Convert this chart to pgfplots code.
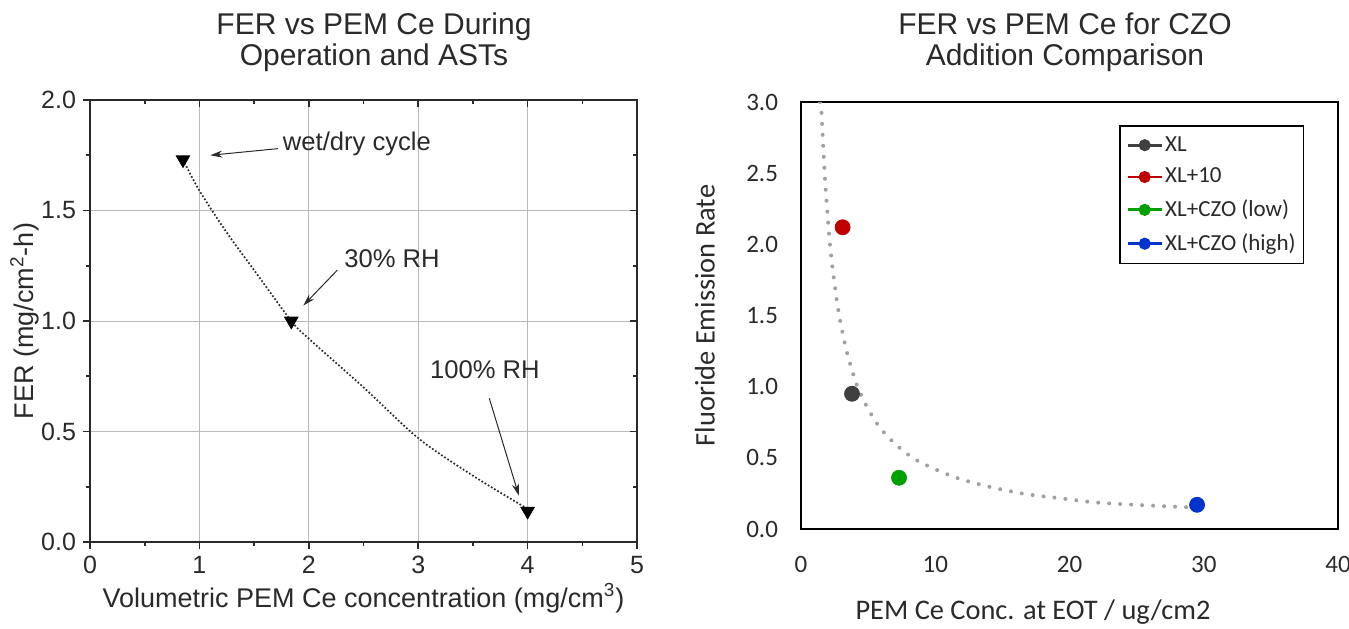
\documentclass[border=0pt]{standalone}
\usepackage{fontspec}
\setmainfont{Liberation Sans}
\newfontfamily\carlito{Carlito}
\usepackage{pgfplots}
\pgfplotsset{compat=1.18}
\usetikzlibrary{arrows.meta}

\definecolor{ink}{HTML}{2A2A2A}
\definecolor{xlgray}{HTML}{404040}
\definecolor{xlred}{HTML}{C00000}
\definecolor{xlgreen}{HTML}{00A000}
\definecolor{xlblue}{HTML}{0033CC}
\definecolor{trend}{HTML}{A0A0A0}

\pgfplotsset{
  /pgf/number format/assume math mode=true,
  leftbox/.style={
    at={(45pt,43pt)}, anchor=south west,
    scale only axis, width=273.5pt, height=221pt,
    xmin=0, xmax=5, ymin=0, ymax=2,
    xtick={0,1,2,3,4,5}, ytick={0,0.5,1,1.5,2},
    minor x tick num=1, minor y tick num=1,
    major tick length=3.5pt, minor tick length=2pt,
    axis line style={ink, line width=0.8pt},
    tick style={ink, line width=0.8pt},
  },
}
\newcommand{\annfont}{\fontsize{12.8}{15}\selectfont}

\begin{document}
\begin{tikzpicture}
\useasboundingbox (0,0) rectangle (674.5pt,314pt);

% ---- left: FER vs volumetric Ce
\begin{axis}[
  leftbox,
  xtick pos=bottom, ytick pos=left, tick align=outside,
  grid=major, major grid style={gray!55, line width=0.4pt},
  ticklabel style={font=\fontsize{12.5}{15}\selectfont, text=ink},
  yticklabel style={/pgf/number format/fixed, /pgf/number format/fixed zerofill, /pgf/number format/precision=1},
  xlabel={Volumetric PEM Ce concentration (mg/cm\textsuperscript{3})},
  ylabel={FER (mg/cm\textsuperscript{2}-h)},
  label style={font=\fontsize{13.5}{16}\selectfont, text=ink},
  xlabel style={at={(axis description cs:0.5,-0.127)}, anchor=center},
  ylabel style={at={(axis description cs:-0.119,0.5)}, anchor=center},
]
\addplot[ink, densely dotted, line width=0.85pt, smooth, forget plot] coordinates {
  (0.85,1.73) (1.0,1.59) (1.25,1.40) (1.5,1.23) (1.84,1.00) (2.0,0.92)
  (2.5,0.70) (3.0,0.47) (3.5,0.30) (4.0,0.15)
};
\addplot[only marks, mark=triangle*, mark size=3.9pt,
  mark options={rotate=180, fill=black, draw=black}] coordinates {
  (0.85,1.73) (1.84,1.00) (4.00,0.14)
};
\node[font=\annfont, text=ink] at (axis cs:2.44,1.80) {wet/dry cycle};
\draw[ink, line width=0.5pt, -{Stealth[length=6pt,width=3.5pt]}] (axis cs:1.72,1.78) -- (axis cs:1.10,1.75);
\node[font=\annfont, text=ink] at (axis cs:2.76,1.28) {30\% RH};
\draw[ink, line width=0.5pt, -{Stealth[length=6pt,width=3.5pt]}] (axis cs:2.26,1.23) -- (axis cs:1.95,1.07);
\node[font=\annfont, text=ink] at (axis cs:3.61,0.78) {100\% RH};
\draw[ink, line width=0.5pt, -{Stealth[length=6pt,width=3.5pt]}] (axis cs:3.65,0.65) -- (axis cs:3.92,0.21);
\end{axis}
% mirrored ticks pointing inward
\begin{axis}[
  leftbox,
  xtick pos=top, ytick pos=right, tick align=inside,
  xticklabels={}, yticklabels={},
]
\end{axis}

% ---- right: FER vs Ce conc. at EOT
\begin{axis}[
  at={(400.5pt,49.5pt)}, anchor=south west,
  scale only axis, width=268.5pt, height=213.5pt,
  xmin=0, xmax=40, ymin=0, ymax=3,
  xtick={0,10,20,30,40}, ytick={0,0.5,1,1.5,2,2.5,3},
  major tick length=0pt,
  axis line style={black, line width=1pt},
  ticklabel style={font=\carlito\fontsize{12.5}{15}\selectfont, text=ink},
  yticklabel style={/pgf/number format/fixed, /pgf/number format/fixed zerofill, /pgf/number format/precision=1},
  xticklabel shift=10pt, yticklabel shift=8pt,
  xlabel={PEM Ce Conc. at EOT / ug/cm2},
  ylabel={Fluoride Emission Rate},
  label style={font=\carlito\fontsize{14.2}{17}\selectfont, text=ink},
  xlabel style={at={(axis description cs:0.432,-0.194)}, anchor=center},
  ylabel style={at={(axis description cs:-0.179,0.5)}, anchor=center},
  legend style={at={(0.593,0.945)}, anchor=north west, draw=black, line width=0.8pt,
    font=\carlito\fontsize{11.5}{13}\selectfont, text=ink,
    row sep=3pt, inner xsep=3pt, inner ysep=3pt,
    nodes={inner xsep=1pt}},
  legend cell align=left,
]
\addplot[trend, line width=2pt, line cap=round, dash pattern=on 0pt off 5.5pt, smooth, forget plot] coordinates {
  (1.42,3.00) (1.52,2.93) (1.8,2.44) (2.21,1.95) (2.75,1.555) (3.25,1.31)
  (3.69,1.15) (4.23,0.995) (4.96,0.85) (5.9,0.71) (7.1,0.59) (8.49,0.49)
  (10.0,0.42) (11.7,0.356) (14.1,0.295) (16.7,0.246) (19.3,0.216)
  (21.9,0.187) (24.5,0.172) (27.1,0.16) (29.6,0.15)
};
\addplot[only marks, mark=*, mark size=3.75pt, color=xlgray, forget plot] coordinates {(3.8,0.95)};
\addplot[only marks, mark=*, mark size=3.75pt, color=xlred, forget plot] coordinates {(3.1,2.12)};
\addplot[only marks, mark=*, mark size=3.75pt, color=xlgreen, forget plot] coordinates {(7.3,0.36)};
\addplot[only marks, mark=*, mark size=3.75pt, color=xlblue, forget plot] coordinates {(29.5,0.17)};
\addlegendimage{xlgray, line width=1.4pt, mark=*, mark size=2.3pt}
\addlegendentry{XL}
\addlegendimage{xlred, line width=1.4pt, mark=*, mark size=2.3pt}
\addlegendentry{XL+10}
\addlegendimage{xlgreen, line width=1.4pt, mark=*, mark size=2.3pt}
\addlegendentry{XL+CZO (low)}
\addlegendimage{xlblue, line width=1.4pt, mark=*, mark size=2.3pt}
\addlegendentry{XL+CZO (high)}
\end{axis}

% titles
\node[font=\fontsize{15}{15.5}\selectfont, align=center, text=ink] at (187pt,292.75pt) {FER vs PEM Ce During\\Operation and ASTs};
\node[font=\fontsize{15}{15.5}\selectfont, align=center, text=ink] at (532.5pt,292.75pt) {FER vs PEM Ce for CZO\\Addition Comparison};
\end{tikzpicture}
\end{document}
